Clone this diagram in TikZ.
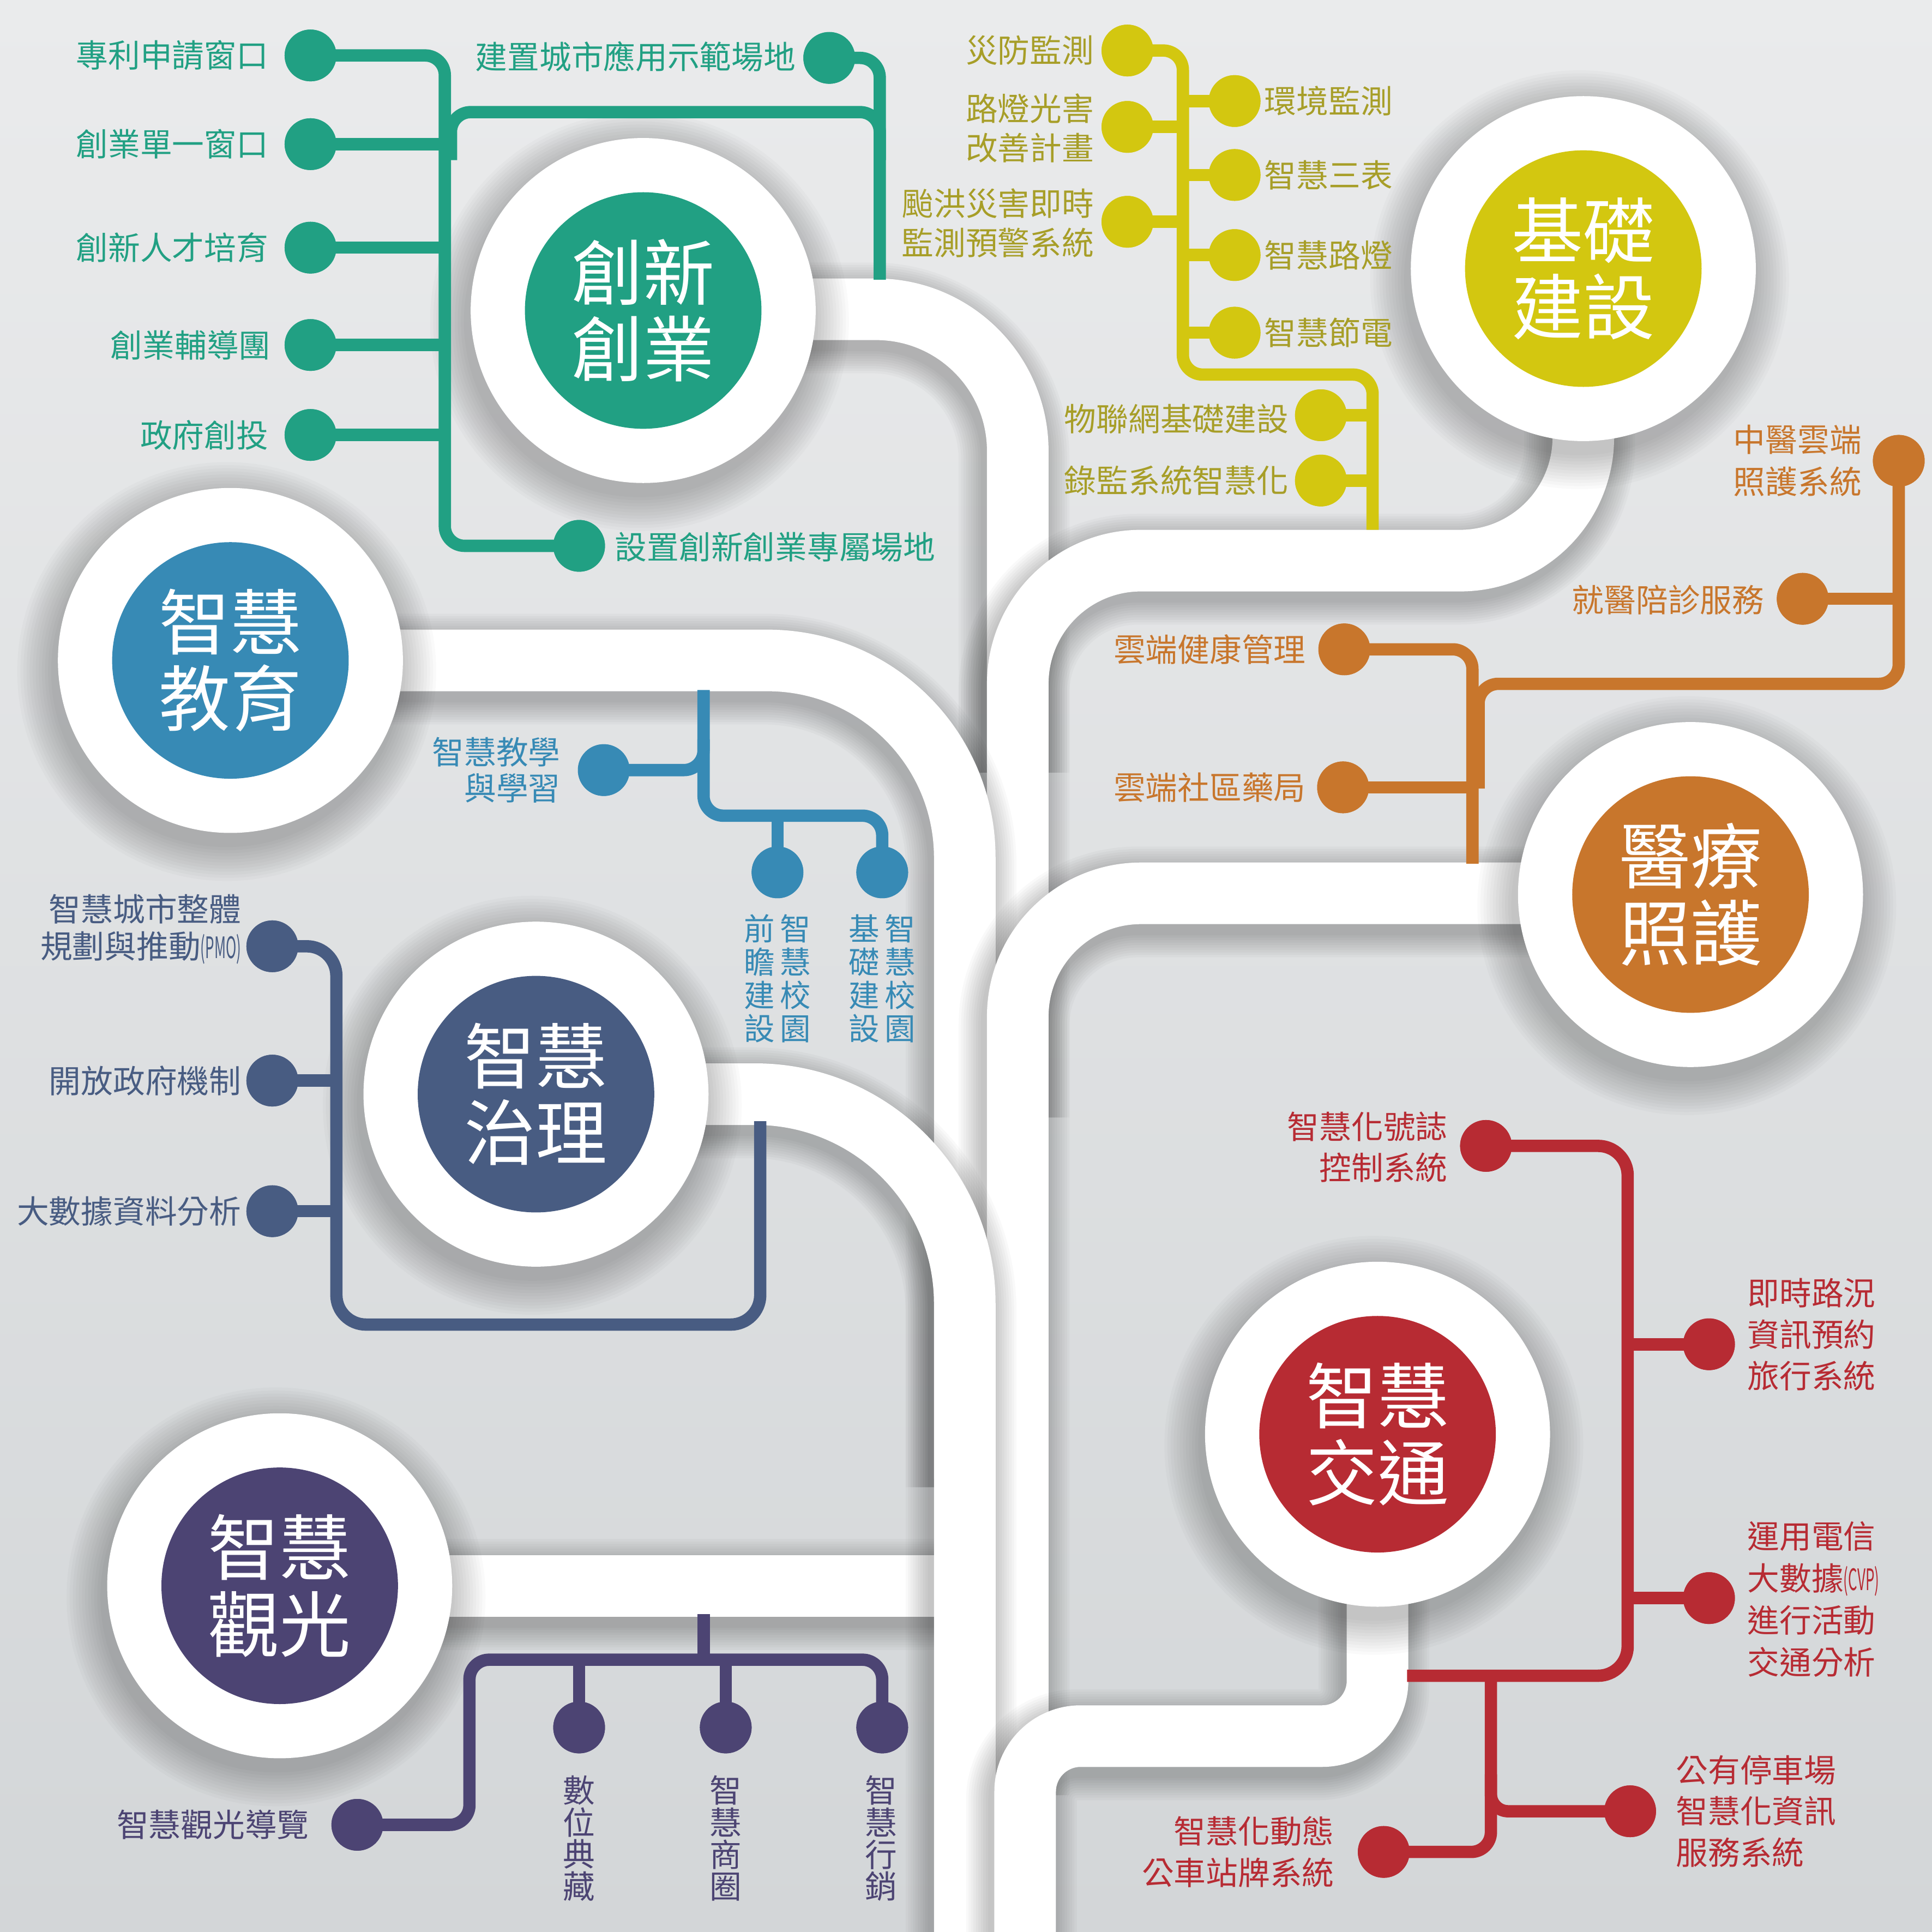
\documentclass[tikz,border=0pt]{standalone}
\usepackage{fontspec}
\usepackage{graphicx}
\setmainfont{Noto Sans CJK TC}
\definecolor{bgTop}{HTML}{EAEBEC}
\definecolor{bgBot}{HTML}{D3D6D8}
\definecolor{cGreen}{HTML}{21A083}
\definecolor{cYel}{HTML}{D3C710}
\definecolor{tYel}{HTML}{A79E28}
\definecolor{cOra}{HTML}{C8762C}
\definecolor{cBlu}{HTML}{378AB5}
\definecolor{cNav}{HTML}{485C82}
\definecolor{cPur}{HTML}{4C4473}
\definecolor{cRed}{HTML}{B72B33}
\tikzset{
  ring/.style={circle, fill=white, minimum size=280pt, inner sep=0pt},
  core/.style={circle, fill=#1, minimum size=192pt, inner sep=0pt, text=white, align=center, font=\fontsize{58}{62}\selectfont},
  bdot/.style={circle, fill=#1, minimum size=42pt, inner sep=0pt},
  tl/.style={draw=#1, line width=10pt, rounded corners=16pt},
  lbl/.style={text=#1, inner sep=0pt, font=\fontsize{26}{31}\selectfont},
}
\newcommand\bandshadow[2]{%
  \foreach \k in {1,...,10}{%
    \pgfmathsetmacro\lw{50+4*\k}%
    \draw[line width=\lw pt, black, opacity=0.022, rounded corners=#1, shift={(-3,7)}] #2;}}
\newcommand\whiteband[2]{\bandshadow{#1}{#2}\draw[line width=50pt, white, rounded corners=#1] #2;}
\newcommand\cshadow[2]{%
  \foreach \k in {1,...,12}{%
    \pgfmathsetmacro\rr{140+2.5*\k}%
    \fill[black,opacity=0.02] (#1-3,#2+9) circle (\rr pt);}}
\newcommand\smallab[1]{\scalebox{0.48}[1]{\fontsize{24}{24}\selectfont #1}}
\begin{document}
\begin{tikzpicture}[x=1pt,y=-1pt]
\useasboundingbox (0,0) rectangle (1568,1568);
\clip (0,0) rectangle (1568,1568);
\shade[top color=bgTop, bottom color=bgBot] (0,0) rectangle (1568,1568);

% ---- white bands ----
\whiteband{115pt}{(522,251) -- (826,251) -- (826,620)}
\whiteband{100pt}{(1285,218) -- (1285,455) -- (826,455) -- (826,900)}
\whiteband{160pt}{(187,536) -- (783,536) -- (783,1200)}
\whiteband{100pt}{(1372,725) -- (826,725) -- (826,1450)}
\whiteband{1pt}{(227,1287) -- (790,1287)}
\whiteband{170pt}{(435,888) -- (783,888) -- (783,1620)}
\whiteband{45pt}{(1118,1164) -- (1118,1409) -- (832,1409) -- (832,1620)}

% ---- circles ----
\cshadow{522}{252}\node[ring] (cA) at (522,252) {};
\cshadow{1285}{218}\node[ring] (cB) at (1285,218) {};
\cshadow{187}{536}\node[ring] (cC) at (187,536) {};
\cshadow{1372}{726}\node[ring] (cD) at (1372,726) {};
\cshadow{435}{888}\node[ring] (cE) at (435,888) {};
\cshadow{227}{1287}\node[ring] (cF) at (227,1287) {};
\cshadow{1118}{1164}\node[ring] (cG) at (1118,1164) {};
\node[core=cGreen] (kA) at (cA) {創新\\創業};
\node[core=cYel] (kB) at (cB) {基礎\\建設};
\node[core=cBlu] (kC) at (cC) {智慧\\教育};
\node[core=cOra] (kD) at (cD) {醫療\\照護};
\node[core=cNav] (kE) at (cE) {智慧\\治理};
\node[core=cPur] (kF) at (cF) {智慧\\觀光};
\node[core=cRed] (kG) at (cG) {智慧\\交通};

% ---- dots ----
\node[bdot=cGreen] (gA) at (252,45) {};
\node[bdot=cGreen] (gB) at (252,117) {};
\node[bdot=cGreen] (gC) at (252,201) {};
\node[bdot=cGreen] (gD) at (252,280) {};
\node[bdot=cGreen] (gE) at (252,353) {};
\node[bdot=cGreen] (gF) at (470,443) {};
\node[bdot=cGreen] (gG) at (673,47) {};
\node[bdot=cYel] (yA) at (915,41) {};
\node[bdot=cYel] (yB) at (915,103) {};
\node[bdot=cYel] (yC) at (915,180) {};
\node[bdot=cYel] (yD) at (1002,82) {};
\node[bdot=cYel] (yE) at (1002,142) {};
\node[bdot=cYel] (yF) at (1002,207) {};
\node[bdot=cYel] (yG) at (1002,270) {};
\node[bdot=cYel] (yH) at (1072,337) {};
\node[bdot=cYel] (yI) at (1072,390) {};
\node[bdot=cOra] (oA) at (1541,374) {};
\node[bdot=cOra] (oB) at (1463,486) {};
\node[bdot=cOra] (oC) at (1091,527) {};
\node[bdot=cOra] (oD) at (1090,639) {};
\node[bdot=cBlu] (bA) at (490,625) {};
\node[bdot=cBlu] (bB) at (631,708) {};
\node[bdot=cBlu] (bC) at (716,708) {};
\node[bdot=cNav] (nA) at (221,768) {};
\node[bdot=cNav] (nB) at (221,877) {};
\node[bdot=cNav] (nC) at (221,983) {};
\node[bdot=cPur] (pA) at (290,1481) {};
\node[bdot=cPur] (pB) at (470,1402) {};
\node[bdot=cPur] (pC) at (589,1402) {};
\node[bdot=cPur] (pD) at (716,1402) {};
\node[bdot=cRed] (rA) at (1206,930) {};
\node[bdot=cRed] (rB) at (1387,1091) {};
\node[bdot=cRed] (rC) at (1387,1297) {};
\node[bdot=cRed] (rD) at (1323,1470) {};
\node[bdot=cRed] (rE) at (1123,1503) {};

% ---- tree lines (behind dots) ----
\begin{scope}[on background layer/.style={}]
\end{scope}
\draw[tl=cGreen] (gA.center) -- (361,45) -- (361,443) -- (gF.center);
\draw[tl=cGreen] (366,130) -- (366,91) -- (714,91) -- (714,130);
\draw[tl=cGreen] (gG.center) -- (714,47) -- (714,227);
\foreach \d in {gB,gC,gD,gE}{\draw[tl=cGreen] (\d.center) -- (\d.center -| 361,0);}
\draw[tl=cYel] (yA.center) -- (960,41) -- (960,304) -- (1114,304) -- (1114,430);
\foreach \d in {yB,yC,yD,yE,yF,yG}{\draw[tl=cYel] (\d.center) -- (\d.center -| 960,0);}
\foreach \d in {yH,yI}{\draw[tl=cYel] (\d.center) -- (\d.center -| 1114,0);}
\draw[tl=cOra] (oA.center) -- (1541,555) -- (1200,555) -- (1200,640);
\draw[tl=cOra] (oC.center) -- (1195,527) -- (1195,701);
\draw[tl=cOra] (oB.center) -- (oB.center -| 1541,0);
\draw[tl=cOra] (oD.center) -- (oD.center -| 1195,0);
\draw[tl=cBlu] (571,560) -- (571,662) -- (716,662) -- (bC.center);
\draw[tl=cBlu] (bA.center) -- (571,625) -- (571,600);
\draw[tl=cBlu] (631,662) -- (bB.center);
\draw[tl=cNav, rounded corners=24pt] (nA.center) -- (273,768) -- (273,1075) -- (617,1075) -- (617,910);
\draw[tl=cNav] (nB.center) -- (nB.center -| 273,0);
\draw[tl=cNav] (nC.center) -- (nC.center -| 273,0);
\draw[tl=cPur] (pA.center) -- (381,1481) -- (381,1347) -- (716,1347) -- (pD.center);
\draw[tl=cPur] (571,1310) -- (571,1347);
\draw[tl=cPur] (470,1347) -- (pB.center);
\draw[tl=cPur] (589,1347) -- (pC.center);
\draw[tl=cRed, rounded corners=24pt] (rA.center) -- (1321,930) -- (1321,1360) -- (1142,1360);
\draw[tl=cRed] (rB.center) -- (rB.center -| 1321,0);
\draw[tl=cRed] (rC.center) -- (rC.center -| 1321,0);
\draw[tl=cRed] (1210,1360) -- (1210,1503) -- (rE.center);
\draw[tl=cRed, rounded corners=14pt] (1210,1440) -- (1210,1470) -- (rD.center);

% redraw dots on top of lines
\foreach \d/\c in {gA/cGreen,gB/cGreen,gC/cGreen,gD/cGreen,gE/cGreen,gF/cGreen,gG/cGreen,
  yA/cYel,yB/cYel,yC/cYel,yD/cYel,yE/cYel,yF/cYel,yG/cYel,yH/cYel,yI/cYel,
  oA/cOra,oB/cOra,oC/cOra,oD/cOra,bA/cBlu,bB/cBlu,bC/cBlu,nA/cNav,nB/cNav,nC/cNav,
  pA/cPur,pB/cPur,pC/cPur,pD/cPur,rA/cRed,rB/cRed,rC/cRed,rD/cRed,rE/cRed}
  {\fill[\c] (\d.center) circle (21pt);}

% ---- labels ----
\node[lbl=cGreen, anchor=east] (tgA) at (218,45) {專利申請窗口};
\node[lbl=cGreen, anchor=east] (tgB) at (218,117) {創業單一窗口};
\node[lbl=cGreen, anchor=east] (tgC) at (218,201) {創新人才培育};
\node[lbl=cGreen, anchor=east] (tgD) at (220,280) {創業輔導團};
\node[lbl=cGreen, anchor=east] (tgE) at (218,353) {政府創投};
\node[lbl=cGreen, anchor=east] (tgG) at (646,46) {建置城市應用示範場地};
\node[lbl=cGreen, anchor=west] (tgF) at (499,444) {設置創新創業專屬場地};

\node[lbl=tYel, anchor=east] (tyA) at (888,41) {災防監測};
\node[lbl=tYel, anchor=east, align=right, font=\fontsize{26}{32}\selectfont] (tyB) at (888,104) {路燈光害\\改善計畫};
\node[lbl=tYel, anchor=east, align=right, font=\fontsize{26}{32}\selectfont] (tyC) at (888,181) {颱洪災害即時\\監測預警系統};
\node[lbl=tYel, anchor=west] (tyD) at (1026,82) {環境監測};
\node[lbl=tYel, anchor=west] (tyE) at (1026,142) {智慧三表};
\node[lbl=tYel, anchor=west] (tyF) at (1026,207) {智慧路燈};
\node[lbl=tYel, anchor=west] (tyG) at (1026,270) {智慧節電};
\node[lbl=tYel, anchor=east] (tyH) at (1046,340) {物聯網基礎建設};
\node[lbl=tYel, anchor=east] (tyI) at (1046,390) {錄監系統智慧化};

\node[lbl=cOra, anchor=east, align=right, font=\fontsize{26}{34}\selectfont] (toA) at (1511,374) {中醫雲端\\照護系統};
\node[lbl=cOra, anchor=east] (toB) at (1432,487) {就醫陪診服務};
\node[lbl=cOra, anchor=east] (toC) at (1060,527) {雲端健康管理};
\node[lbl=cOra, anchor=east] (toD) at (1060,639) {雲端社區藥局};

\node[lbl=cBlu, anchor=east, align=right, font=\fontsize{26}{29}\selectfont] (tbA) at (455,625) {智慧教學\\與學習};
\node[lbl=cBlu, align=center, font=\fontsize{25}{27}\selectfont] (tbB) at (631,794) {前\hspace{4pt}智\\瞻\hspace{4pt}慧\\建\hspace{4pt}校\\設\hspace{4pt}園};
\node[lbl=cBlu, align=center, font=\fontsize{25}{27}\selectfont] (tbC) at (716,794) {基\hspace{4pt}智\\礎\hspace{4pt}慧\\建\hspace{4pt}校\\設\hspace{4pt}園};

\node[lbl=cNav, anchor=east, align=right, font=\fontsize{26}{30}\selectfont] (tnA) at (196,754) {智慧城市整體\\規劃與推動\smallab{(PMO)}};
\node[lbl=cNav, anchor=east] (tnB) at (196,877) {開放政府機制};
\node[lbl=cNav, anchor=east] (tnC) at (196,983) {大數據資料分析};

\node[lbl=cPur, anchor=east] (tpA) at (251,1481) {智慧觀光導覽};
\node[lbl=cPur, align=center, font=\fontsize{26}{26}\selectfont] (tpB) at (470,1492) {數\\位\\典\\藏};
\node[lbl=cPur, align=center, font=\fontsize{26}{26}\selectfont] (tpC) at (589,1492) {智\\慧\\商\\圈};
\node[lbl=cPur, align=center, font=\fontsize{26}{26}\selectfont] (tpD) at (715,1492) {智\\慧\\行\\銷};

\node[lbl=cRed, anchor=east, align=right, font=\fontsize{26}{33}\selectfont] (trA) at (1175,931) {智慧化號誌\\控制系統};
\node[lbl=cRed, anchor=west, align=left, font=\fontsize{26}{33.5}\selectfont] (trB) at (1418,1083) {即時路況\\資訊預約\\旅行系統};
\node[lbl=cRed, anchor=west, align=left, font=\fontsize{26}{34}\selectfont] (trC) at (1418,1298) {運用電信\\大數據\smallab{(CVP)}\\進行活動\\交通分析};
\node[lbl=cRed, anchor=west, align=left, font=\fontsize{26}{33.5}\selectfont] (trD) at (1360,1470) {公有停車場\\智慧化資訊\\服務系統};
\node[lbl=cRed, anchor=east, align=right, font=\fontsize{26}{34}\selectfont] (trE) at (1083,1503) {智慧化動態\\公車站牌系統};
\end{tikzpicture}
\end{document}
